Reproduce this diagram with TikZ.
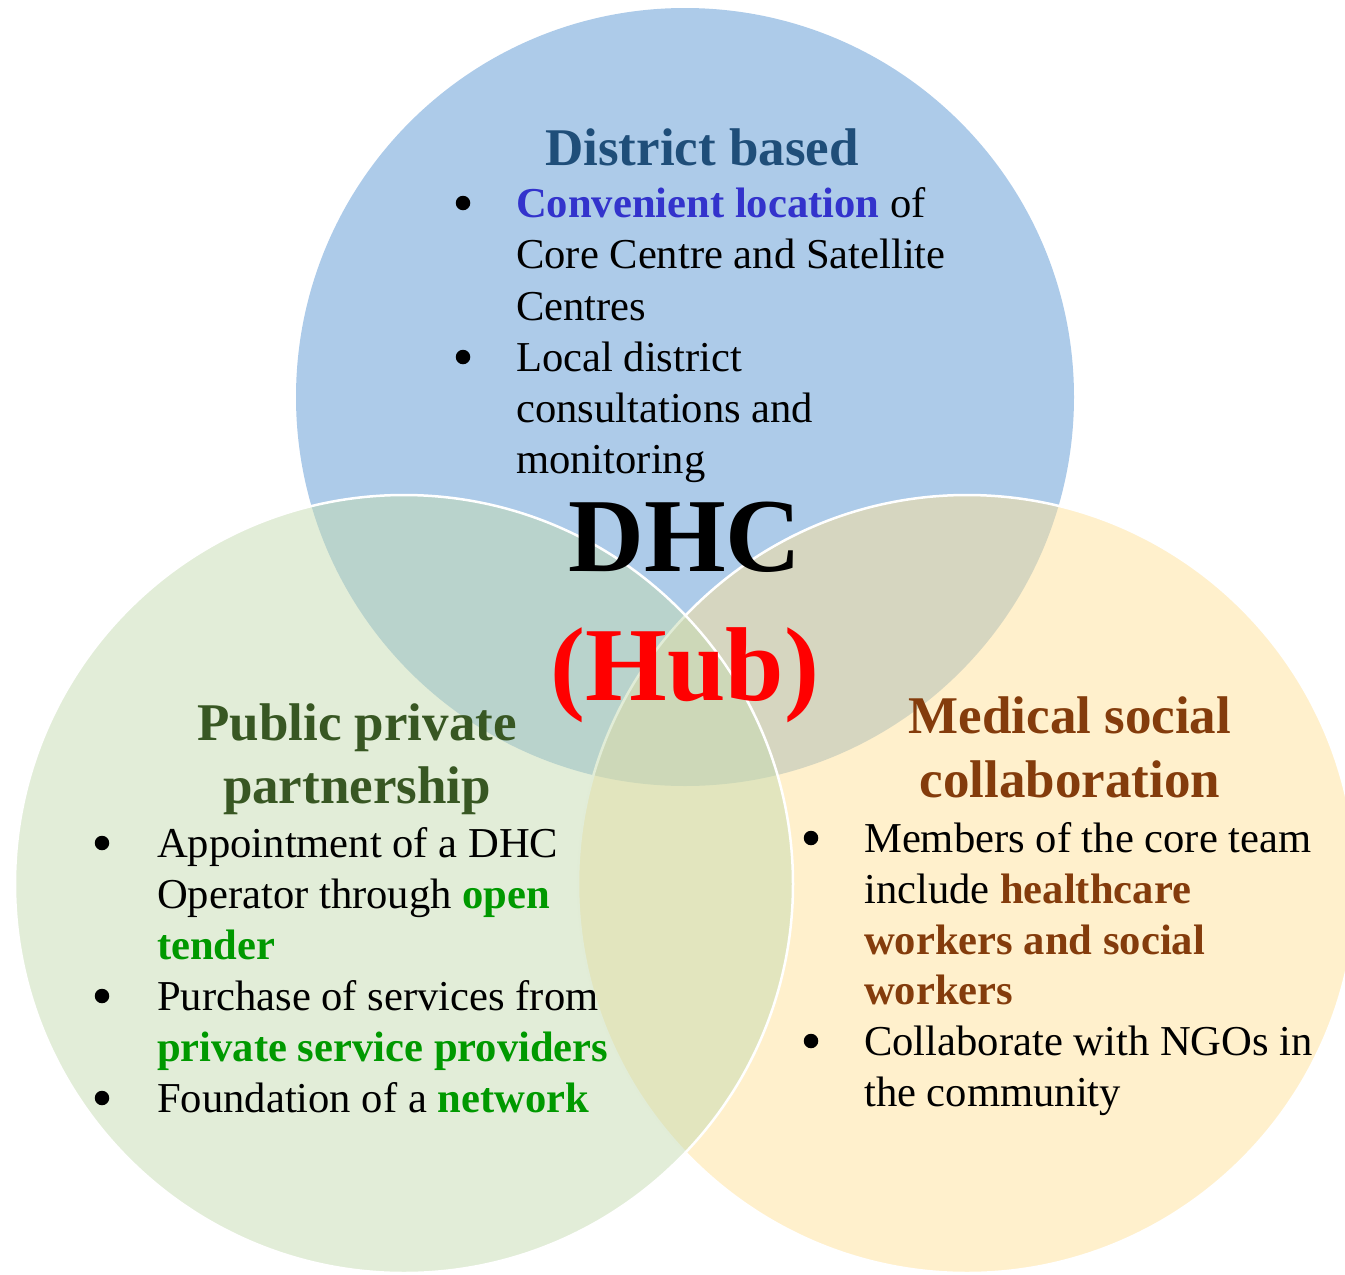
\documentclass[tikz,border=0pt]{standalone}
\usepackage{fontspec}
\setmainfont{Liberation Serif}
\usepackage{xcolor}

\definecolor{circblue}{RGB}{173,203,233}
\definecolor{circyellow}{RGB}{255,225,153}
\definecolor{circgreen}{RGB}{197,219,177}
\definecolor{headblue}{RGB}{31,78,121}
\definecolor{convblue}{RGB}{51,51,204}
\definecolor{headgreen}{RGB}{56,87,35}
\definecolor{keygreen}{RGB}{0,153,0}
\definecolor{keybrown}{RGB}{132,60,12}

\newcommand{\bodyfont}{\fontsize{42.6}{51}\selectfont}
\newcommand{\headfont}{\fontsize{53}{63}\selectfont\bfseries}
\newcommand{\hubfont}{\fontsize{105}{126}\selectfont\bfseries}

\begin{document}
\begin{tikzpicture}[x=1pt,y=-1pt,
    every node/.style={inner sep=0pt},
    txt/.style={anchor=base west,font=\bodyfont},
    dot/.style={circle,fill=black,minimum size=14.5pt,yshift=14pt},
    head/.style={anchor=base,font=\headfont}]
\useasboundingbox (0,0) rectangle (1345,1275);

\begin{scope}[draw=white,line width=2.5pt]
    \fill[circblue] (685,397) circle[radius=389pt];
    \filldraw[fill=circyellow,fill opacity=0.5] (967,884) circle[radius=389pt];
    \filldraw[fill=circgreen,fill opacity=0.5] (404,884) circle[radius=389pt];
\end{scope}

\begin{scope}[every node/.append style={text=headblue}]
    \node[head] (D) at (702,165) {District based};
\end{scope}
\node[dot] (D1) at (463,217) {};
\node[txt] (D1a) at (516,217) {{\bfseries\color{convblue}Convenient location} of};
\node[txt] (D1b) at (516,268) {Core Centre and Satellite};
\node[txt] (D1c) at (516,320) {Centres};
\node[dot] (D2) at (463,371) {};
\node[txt] (D2a) at (516,371) {Local district};
\node[txt] (D2b) at (516,422) {consultations and};
\node[txt] (D2c) at (516,473) {monitoring};

\node[anchor=base,font=\hubfont] (H) at (685,571) {DHC};
\node[anchor=base,font=\hubfont,text=red] (Hub) at (685,700) {(Hub)};

\begin{scope}[every node/.append style={text=headgreen}]
    \node[head] (P) at (357,740) {Public private};
    \node[head] (Pb) at (357,803) {partnership};
\end{scope}
\node[dot] (P1) at (102,857) {};
\node[txt] (P1a) at (157,857) {Appointment of a DHC};
\node[txt] (P1b) at (157,908) {Operator through {\bfseries\color{keygreen}open}};
\node[txt] (P1c) at (157,959) {\bfseries\color{keygreen}tender};
\node[dot] (P2) at (102,1010) {};
\node[txt] (P2a) at (157,1010) {Purchase of services from};
\node[txt] (P2b) at (157,1061) {\bfseries\color{keygreen}private service providers};
\node[dot] (P3) at (102,1112) {};
\node[txt] (P3a) at (157,1112) {Foundation of a {\bfseries\color{keygreen}network}};

\begin{scope}[every node/.append style={text=keybrown}]
    \node[head] (M) at (1070,733) {Medical social};
    \node[head] (Mb) at (1070,797) {collaboration};
\end{scope}
\node[dot] (M1) at (811,852) {};
\node[txt] (M1a) at (864,852) {Members of the core team};
\node[txt] (M1b) at (864,903) {include {\bfseries\color{keybrown}healthcare}};
\node[txt] (M1c) at (864,954) {\bfseries\color{keybrown}workers and social};
\node[txt] (M1d) at (864,1004) {\bfseries\color{keybrown}workers};
\node[dot] (M2) at (811,1055) {};
\node[txt] (M2a) at (864,1055) {Collaborate with NGOs in};
\node[txt] (M2b) at (864,1106) {the community};
\end{tikzpicture}
\end{document}
